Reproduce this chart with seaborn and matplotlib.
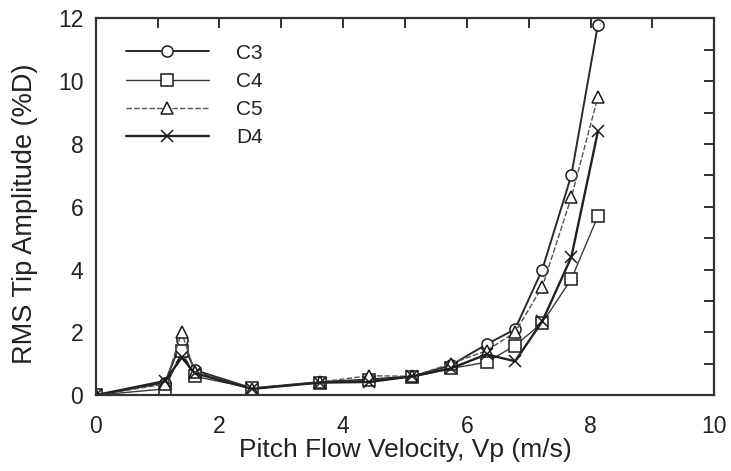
import numpy as np
import pandas as pd
import matplotlib
matplotlib.use("Agg")
import matplotlib.pyplot as plt
import seaborn as sns

velocity = [0.0, 1.12, 1.39, 1.6, 2.53, 3.63, 4.42, 5.12, 5.74, 6.32, 6.78, 7.22, 7.69, 8.12]
c3 = [0.0, 0.40, 1.75, 0.80, 0.22, 0.42, 0.50, 0.60, 0.95, 1.62, 2.10, 4.00, 7.00, 11.8]
c4 = [0.0, 0.20, 1.40, 0.60, 0.22, 0.40, 0.48, 0.58, 0.85, 1.05, 1.58, 2.30, 3.70, 5.70]
c5 = [0.0, 0.35, 2.00, 0.75, 0.20, 0.42, 0.62, 0.60, 1.00, 1.42, 2.00, 3.45, 6.30, 9.50]
d4 = [0.0, 0.45, 1.20, 0.70, 0.20, 0.40, 0.42, 0.60, 0.85, 1.30, 1.08, 2.35, 4.40, 8.40]
series_names = ["C3", "C4", "C5", "D4"]
series_values = [c3, c4, c5, d4]
x_ticklabels = ["0", "2", "4", "6", "8", "10"]
y_ticklabels = ["0", "2", "4", "6", "8", "10", "12"]

df = pd.DataFrame({
    "Velocity": velocity * len(series_names),
    "Amplitude": sum(series_values, []),
    "Series": sum([[n] * len(velocity) for n in series_names], []),
})

sns.set_theme(style="white")
plt.rcParams["font.family"] = ["Liberation Sans", "DejaVu Sans"]

fig = plt.figure(figsize=(7.31, 4.71), dpi=100)
ax = fig.add_axes([0.131, 0.161, 0.846, 0.800])

styles = {
    "C3": dict(marker="o", lw=1.4, ls="-", color="#2a2a2a", ms=8),
    "C4": dict(marker="s", lw=1.0, ls="-", color="#3a3a3a", ms=8),
    "C5": dict(marker="^", lw=1.0, ls=(0, (4, 1.5)), color="#555555", ms=8),
    "D4": dict(marker="x", lw=1.7, ls="-", color="#222222", ms=9),
}

for name in series_names:
    st = styles[name]
    sub = df[df["Series"] == name]
    sns.lineplot(data=sub, x="Velocity", y="Amplitude", ax=ax, label=name,
                 color=st["color"], linewidth=st["lw"], linestyle=st["ls"],
                 marker=st["marker"], markersize=st["ms"],
                 markerfacecolor="white", markeredgecolor="#1a1a1a",
                 markeredgewidth=1.1, estimator=None, sort=False)

ax.set_xlim(0, 10)
ax.set_ylim(0, 12)
ax.set_xticks(np.arange(0, 11, 1))
ax.set_xticklabels(sum([[l, ""] for l in x_ticklabels], [])[:11])
ax.set_yticks(np.arange(0, 13, 1))
ax.set_yticklabels(sum([[l, ""] for l in y_ticklabels], [])[:13])

ax.tick_params(axis="both", which="both", direction="in", length=7, width=1.3,
               top=True, right=True, labelsize=16.5, colors="#222222")
ax.tick_params(axis="x", pad=14)
ax.tick_params(axis="y", pad=9)
for sp in ax.spines.values():
    sp.set_color("#333333")
    sp.set_linewidth(1.6)

ax.set_xlabel("Pitch Flow Velocity, Vp (m/s)", fontsize=19, color="#222222")
ax.set_ylabel("RMS Tip Amplitude (%D)", fontsize=19.5, color="#222222")
ax.xaxis.label.set_va("center")
ax.yaxis.label.set_va("center")
ax.xaxis.set_label_coords(0.5, -0.146)
ax.yaxis.set_label_coords(-0.115, 0.48)

leg = ax.legend(loc="upper left", bbox_to_anchor=(0.035, 0.955), frameon=False,
                fontsize=15, handlelength=4.0, handletextpad=1.3, labelspacing=0.44,
                borderaxespad=0.0)
for t in leg.get_texts():
    t.set_color("#222222")

fig.savefig("out.png", dpi=100)
